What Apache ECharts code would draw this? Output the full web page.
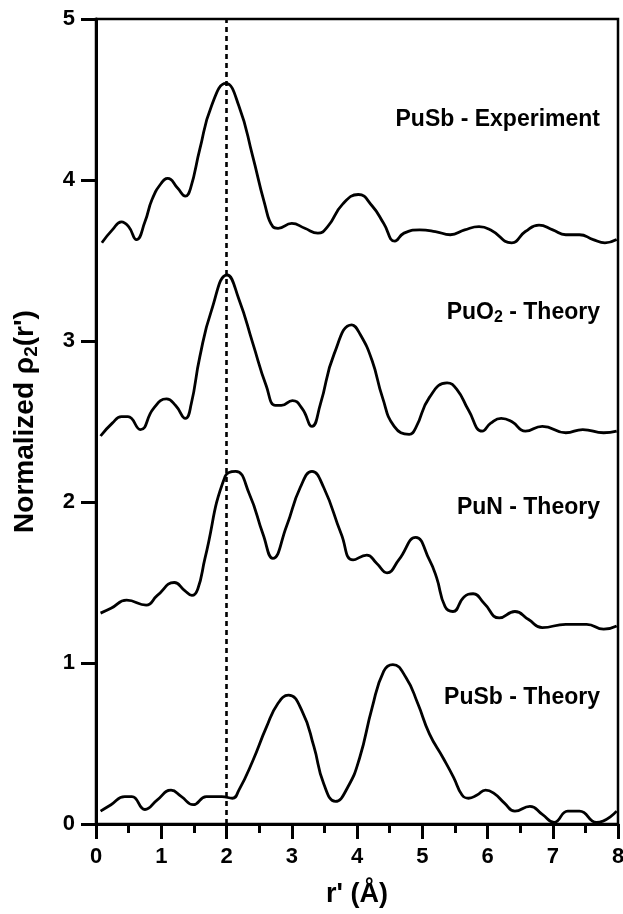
<!DOCTYPE html>
<html>
<head>
<meta charset="utf-8">
<title>Normalized rho2(r')</title>
<script src="https://cdn.jsdelivr.net/npm/echarts@6/dist/echarts.min.js"></script>
<style>
  html, body { margin: 0; padding: 0; background: #fff; }
  #chart { width: 623px; height: 914px; }
</style>
</head>
<body>
<div id="chart"></div>
<script>
// values: [r' (Å), normalized rho2]
const pusbExperiment = [
  [0.09, 3.61], [0.25, 3.69], [0.39, 3.74], [0.50, 3.71], [0.62, 3.63], [0.75, 3.74],
  [0.86, 3.88], [1.00, 3.98], [1.10, 4.01], [1.25, 3.95], [1.37, 3.90], [1.45, 3.95],
  [1.59, 4.19], [1.77, 4.46], [1.99, 4.60], [2.19, 4.46], [2.40, 4.15], [2.58, 3.86],
  [2.71, 3.71], [2.79, 3.70], [3.00, 3.73], [3.20, 3.70], [3.40, 3.67], [3.55, 3.71],
  [3.78, 3.85], [4.02, 3.91], [4.23, 3.84], [4.41, 3.73], [4.58, 3.62], [4.72, 3.67],
  [4.96, 3.69], [5.20, 3.68], [5.43, 3.66], [5.65, 3.69], [5.87, 3.71], [6.05, 3.69],
  [6.37, 3.61], [6.58, 3.68], [6.79, 3.72], [7.00, 3.69], [7.20, 3.66], [7.41, 3.66],
  [7.62, 3.63], [7.80, 3.61], [7.98, 3.63]
]
const puo2Theory = [
  [0.07, 2.41], [0.25, 2.49], [0.39, 2.53], [0.49, 2.53], [0.68, 2.45], [0.88, 2.58],
  [1.08, 2.64], [1.22, 2.60], [1.37, 2.52], [1.46, 2.61], [1.59, 2.90], [1.77, 3.19],
  [2.01, 3.41], [2.19, 3.26], [2.40, 2.99], [2.61, 2.72], [2.75, 2.60], [2.84, 2.60],
  [3.01, 2.63], [3.16, 2.58], [3.31, 2.47], [3.44, 2.61], [3.65, 2.92], [3.92, 3.10],
  [4.05, 3.04], [4.23, 2.88], [4.39, 2.65], [4.57, 2.47], [4.80, 2.42], [4.90, 2.46],
  [5.11, 2.65], [5.38, 2.74], [5.53, 2.70], [5.71, 2.57], [5.92, 2.44], [6.05, 2.49],
  [6.21, 2.52], [6.37, 2.50], [6.58, 2.44], [6.84, 2.47], [7.20, 2.43], [7.46, 2.45],
  [7.78, 2.43], [7.98, 2.44]
]
const punTheory = [
  [0.07, 1.31], [0.23, 1.34], [0.47, 1.39], [0.77, 1.36], [0.94, 1.42], [1.20, 1.50],
  [1.36, 1.45], [1.47, 1.42], [1.56, 1.46], [1.67, 1.65], [1.98, 2.16], [2.14, 2.19],
  [2.35, 2.05], [2.56, 1.80], [2.71, 1.65], [2.92, 1.85], [3.13, 2.09], [3.31, 2.19],
  [3.49, 2.09], [3.76, 1.80], [3.94, 1.64], [4.15, 1.67], [4.30, 1.62], [4.46, 1.56],
  [4.64, 1.64], [4.90, 1.78], [5.11, 1.64], [5.22, 1.53], [5.35, 1.35], [5.47, 1.32],
  [5.64, 1.41], [5.78, 1.43], [5.95, 1.37], [6.18, 1.28], [6.42, 1.32], [6.63, 1.27],
  [6.84, 1.22], [7.20, 1.24], [7.52, 1.24], [7.78, 1.21], [7.98, 1.23]
]
const pusbTheory = [
  [0.07, 0.08], [0.23, 0.12], [0.44, 0.17], [0.55, 0.17], [0.75, 0.09], [0.94, 0.15],
  [1.15, 0.21], [1.31, 0.17], [1.49, 0.12], [1.69, 0.17], [1.93, 0.17], [2.09, 0.16],
  [2.19, 0.21], [2.40, 0.39], [2.61, 0.60], [2.79, 0.75], [2.95, 0.80], [3.16, 0.70],
  [3.34, 0.48], [3.49, 0.25], [3.67, 0.14], [3.86, 0.23], [4.04, 0.41], [4.23, 0.72],
  [4.41, 0.95], [4.55, 0.99], [4.75, 0.91], [4.93, 0.75], [5.11, 0.56], [5.32, 0.41],
  [5.48, 0.29], [5.61, 0.18], [5.71, 0.16], [5.84, 0.18], [5.97, 0.21], [6.10, 0.19],
  [6.26, 0.13], [6.42, 0.08], [6.65, 0.11], [6.84, 0.06], [7.02, 0.01], [7.23, 0.08],
  [7.41, 0.08], [7.67, 0.01], [7.98, 0.08]
]
const seriesNames = ['PuSb - Experiment', 'PuO2 - Theory', 'PuN - Theory', 'PuSb - Theory']
const referenceR = 2 // dashed line position

const font = '"Liberation Sans", Arial, Helvetica, sans-serif'
const chart = echarts.init(document.getElementById('chart'), null, { renderer: 'canvas' })

function curve (name, data) {
  return {
    name: name,
    type: 'line',
    data: data,
    smooth: 0.5,
    showSymbol: false,
    silent: true,
    lineStyle: { color: '#000', width: 2.8 }
  }
}

const series = [
  curve(seriesNames[0], pusbExperiment),
  curve(seriesNames[1], puo2Theory),
  curve(seriesNames[2], punTheory),
  curve(seriesNames[3], pusbTheory)
]
// vertical dashed line at r' = 2
series[0].markLine = {
  silent: true,
  symbol: 'none',
  label: { show: false },
  lineStyle: { color: '#000', width: 2.6, type: [5, 4] },
  data: [{ xAxis: referenceR }]
}

// curve labels, right aligned inside the frame
const labelStyle = { fontFamily: font, fontWeight: 'bold', fill: '#000' }
function label (y, text, rich) {
  return {
    type: 'text',
    x: 600,
    y: y,
    style: Object.assign({ text: text, align: 'right', verticalAlign: 'middle', fontSize: 23, rich: rich }, labelStyle)
  }
}
const subRich = {
  a: { fontFamily: font, fontWeight: 'bold', fontSize: 23, lineHeight: 26 },
  s: { fontFamily: font, fontWeight: 'bold', fontSize: 16, lineHeight: 16, verticalAlign: 'bottom' }
}

const option = {
  backgroundColor: '#fff',
  animation: false,
  grid: {
    left: 96,
    right: 5,
    top: 19,
    bottom: 90,
    outerBoundsMode: 'none',
    containLabel: false,
    show: true,
    borderColor: '#000',
    borderWidth: 2.5
  },
  xAxis: {
    type: 'value',
    min: 0,
    max: 8,
    interval: 1,
    name: "r' (Å)",
    nameLocation: 'middle',
    nameGap: 57,
    nameTextStyle: { fontFamily: font, fontWeight: 'bold', fontSize: 27, color: '#000' },
    axisLine: { onZero: false, lineStyle: { color: '#000', width: 3 } },
    axisTick: { inside: false, length: 15, lineStyle: { color: '#000', width: 3 } },
    minorTick: { show: true, splitNumber: 2, length: 9, lineStyle: { color: '#000', width: 3 } },
    axisLabel: { margin: 22, fontFamily: font, fontWeight: 'bold', fontSize: 22, color: '#000' },
    splitLine: { show: false }
  },
  yAxis: {
    type: 'value',
    min: 0,
    max: 5,
    interval: 1,
    name: "{a|Normalized ρ}{s|2}{a|(r')}",
    nameLocation: 'middle',
    nameGap: 55,
    nameTextStyle: {
      color: '#000',
      rich: {
        a: { fontFamily: font, fontWeight: 'bold', fontSize: 28, lineHeight: 32 },
        s: { fontFamily: font, fontWeight: 'bold', fontSize: 19, lineHeight: 19, verticalAlign: 'bottom' }
      }
    },
    axisLine: { onZero: false, lineStyle: { color: '#000', width: 3 } },
    axisTick: { inside: false, length: 15, lineStyle: { color: '#000', width: 3 } },
    axisLabel: { margin: 21, fontFamily: font, fontWeight: 'bold', fontSize: 22, color: '#000' },
    splitLine: { show: false }
  },
  graphic: [
    label(120, seriesNames[0]),
    label(313, '{a|PuO}{s|2}{a| - Theory}', subRich),
    label(508, seriesNames[2]),
    label(698, seriesNames[3])
  ],
  series: series
}

chart.setOption(option)
</script>
</body>
</html>
